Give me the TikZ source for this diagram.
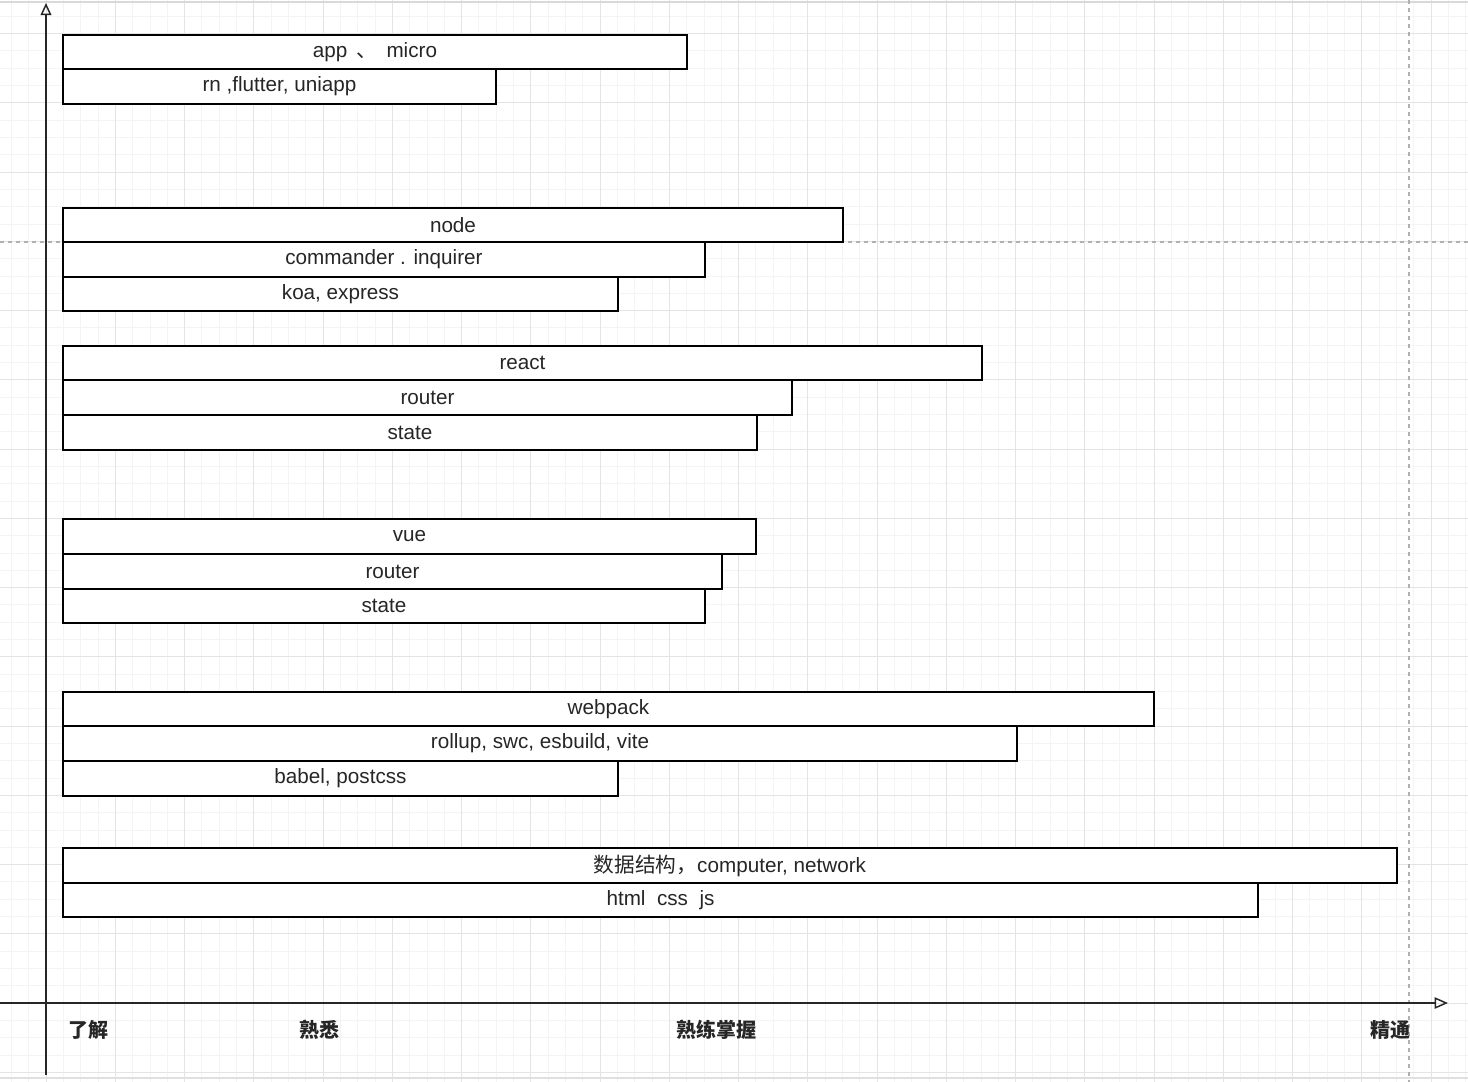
\documentclass[tikz,border=0pt]{standalone}
\usepackage{fontspec}
\setmainfont{Liberation Sans}
\newfontfamily\cjk{Noto Sans CJK SC}
\usetikzlibrary{arrows.meta}
\definecolor{gmajor}{HTML}{E4E4E4}
\definecolor{gminor}{HTML}{F4F4F4}
\definecolor{gdash}{HTML}{B0B0B0}
\tikzset{
  sbar/.style={draw=black, line width=1.4pt, fill=white, inner sep=0pt, font=\fontsize{15.5}{18}\selectfont, text=black!85},
  axisline/.style={line width=1.3pt, draw=black!85},
  levellabel/.style={font=\cjk\fontsize{15}{18}\selectfont\bfseries, text=black!85, inner sep=0pt},
  guide/.style={draw=gdash, line width=0.8pt, dash pattern=on 3pt off 3pt}
}
\newcommand\skillbar[6]{%
  \node[sbar, minimum width={(#4-#2)*0.75pt}, minimum height={(#5-#3)*0.75pt}] (#1) at ({(#2+#4)/2},{(#3+#5)/2}) {#6};}
\begin{document}
\begin{tikzpicture}[x=0.75pt,y=-0.75pt]
\useasboundingbox[fill=white] (0,0) rectangle (1468,1082);
% minor grid
\foreach \i in {-2,...,82} {
  \pgfmathtruncatemacro\r{mod(\i+100,4)}
  \ifnum\r>0
  \draw[gminor, line width=0.5pt] ({46+\i*17.3125},0) -- ({46+\i*17.3125},1082);
  \fi
}
\foreach \j in {-58,...,5} {
  \pgfmathtruncatemacro\r{mod(\j+100,4)}
  \ifnum\r>0
  \draw[gminor, line width=0.5pt] (0,{1003+\j*17.3125}) -- (1468,{1003+\j*17.3125});
  \fi
}
% major grid
\foreach \i in {-1,...,20} {
  \draw[gmajor, line width=0.7pt] ({46+\i*69.25},0) -- ({46+\i*69.25},1082);
}
\foreach \j in {-15,...,1} {
  \draw[gmajor, line width=0.7pt] (0,{1003+\j*69.25}) -- (1468,{1003+\j*69.25});
}
% frame lines of screenshot
\draw[black!15, line width=1pt] (0,2) -- (1468,2);
\draw[black!12, line width=1pt] (0,1078) -- (1468,1078);
% guides
\coordinate (gl) at (0,242);
\coordinate (gr) at (1468,242);
\draw[guide] (gl) -- (gr);
\coordinate (gt) at (1409,0);
\coordinate (gb) at (1409,1082);
\draw[guide] (gt) -- (gb);
% axes
\coordinate (yb) at (46,1075);
\coordinate (yt) at (46,3);
\coordinate (xl) at (0,1003);
\coordinate (xr) at (1448,1003);
\draw[axisline, -{Triangle[open, length=9pt, width=8pt, line width=1.1pt]}] (yb) -- (yt);
\draw[axisline, -{Triangle[open, length=10pt, width=8.5pt, line width=1.1pt]}] (xl) -- (xr);
% bars
\skillbar{app}{63}{35}{687}{69}{app \,{\cjk 、}\, micro}
\skillbar{rn}{63}{69}{496}{104}{rn ,flutter, uniapp}
\skillbar{node}{63}{208}{843}{242}{node}
\skillbar{cmd}{63}{242}{705}{277}{commander . inquirer}
\skillbar{koa}{63}{277}{618}{311}{koa, express}
\skillbar{react}{63}{346}{982}{380}{react}
\skillbar{rrouter}{63}{380}{792}{415}{router}
\skillbar{rstate}{63}{415}{757}{450}{state}
\skillbar{vue}{63}{519}{756}{554}{vue}
\skillbar{vrouter}{63}{554}{722}{589}{router}
\skillbar{vstate}{63}{589}{705}{623}{state}
\skillbar{webpack}{63}{692}{1154}{726}{webpack}
\skillbar{rollup}{63}{726}{1017}{761}{rollup, swc, esbuild, vite}
\skillbar{babel}{63}{761}{618}{796}{babel, postcss}
\skillbar{ds}{63}{848}{1397}{883}{{\cjk 数据结构，}computer, network}
\skillbar{html}{63}{883}{1258}{917}{html\ \ css\ \ js}
% level labels
\node[levellabel] (l1) at (88,1030) {了解};
\node[levellabel] (l2) at (319,1030) {熟悉};
\node[levellabel] (l3) at (716,1030) {熟练掌握};
\node[levellabel] (l4) at (1390,1030) {精通};
\end{tikzpicture}
\end{document}
